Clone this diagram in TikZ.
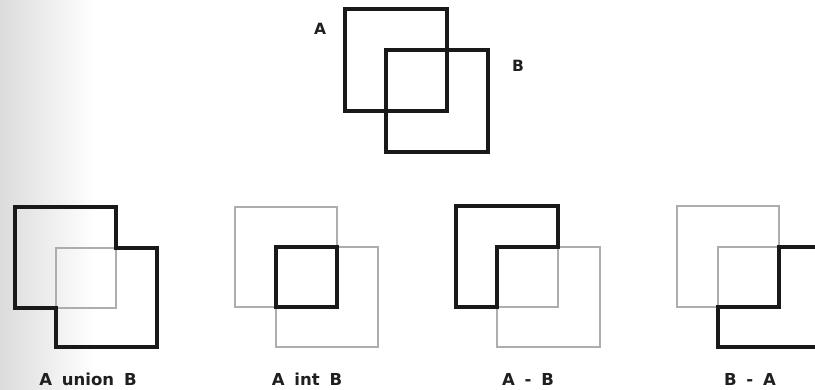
\documentclass[tikz,border=0pt]{standalone}
\usepackage{fontspec}
\setmainfont{DejaVu Sans}
\newcommand\wgap{\hspace{0.6em}}
\tikzset{
  solid edge/.style={draw=black!90, line width=3.3pt, line join=miter},
  faint edge/.style={draw=black!32, line width=1.4pt},
  setlabel/.style={font=\bfseries\fontsize{16.5}{18}\selectfont, text=black!88, anchor=base, inner sep=0pt},
  namelabel/.style={font=\bfseries\fontsize{15.5}{17}\selectfont, text=black!88, inner sep=0pt}
}
\begin{document}
\begin{tikzpicture}[x=1pt, y=-1pt]
  \useasboundingbox (0,0) rectangle (815,390);
  \clip (0,0) rectangle (815,390);
  % worn paper along the left margin
  \shade[left color=black!14, right color=white] (0,0) rectangle (95,390);

  % the two sets A and B
  \draw[solid edge] (345,9) rectangle (447,111);
  \draw[solid edge] (386,50) rectangle (488,152);
  \node[namelabel] (labA) at (320,29) {A};
  \node[namelabel] (labB) at (518,66) {B};

  % A union B
  \draw[faint edge] (15,207) rectangle (116,308);
  \draw[faint edge] (56,248) rectangle (157,347);
  \draw[solid edge] (15,207) -- (116,207) -- (116,248) -- (157,248) -- (157,347)
        -- (56,347) -- (56,308) -- (15,308) -- cycle;
  \node[setlabel] (union) at (88,385) {A\wgap union\wgap B};

  % A int B
  \draw[faint edge] (235,207) rectangle (337,307);
  \draw[faint edge] (276,247) rectangle (378,347);
  \draw[solid edge] (276,247) rectangle (337,307);
  \node[setlabel] (inter) at (307,385) {A\wgap int\wgap B};

  % A - B
  \draw[faint edge] (456,206) rectangle (558,307);
  \draw[faint edge] (497,247) rectangle (600,347);
  \draw[solid edge] (456,206) -- (558,206) -- (558,247) -- (497,247) -- (497,307)
        -- (456,307) -- cycle;
  \node[setlabel] (adiff) at (528,385) {A\wgap -\wgap B};

  % B - A
  \draw[faint edge] (677,206) rectangle (779,307);
  \draw[faint edge] (718,247) rectangle (820,347);
  \draw[solid edge] (779,247) -- (820,247) -- (820,347) -- (718,347) -- (718,307)
        -- (779,307) -- cycle;
  \node[setlabel] (bdiff) at (750,385) {B\wgap -\wgap A};
\end{tikzpicture}
\end{document}
